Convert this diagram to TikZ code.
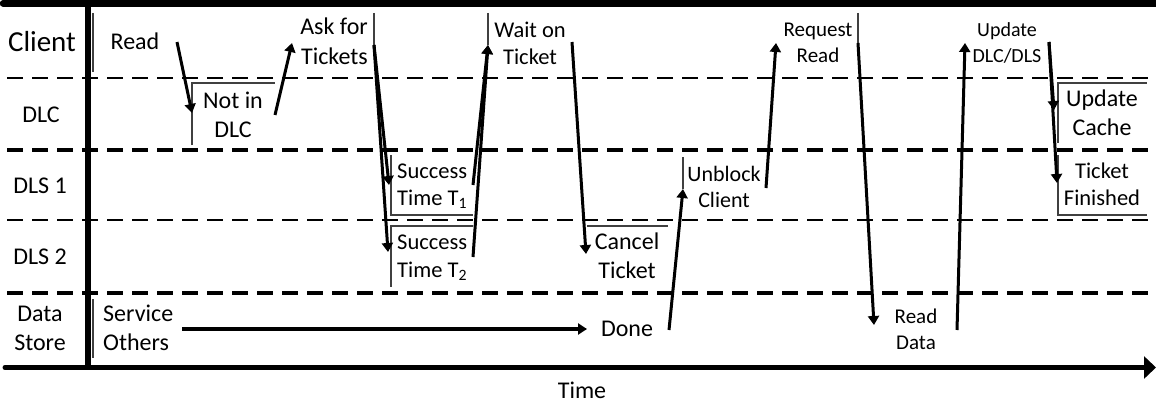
\documentclass[tikz,border=0pt]{standalone}
\usepackage{fontspec}
\setmainfont{Carlito}
\usetikzlibrary{arrows.meta}
\begin{document}
\begin{tikzpicture}[x=1pt,y=-1pt,
  lbl/.style={inner sep=0pt, align=center, font=\fontsize{24}{29}\selectfont},
  lblB/.style={inner sep=0pt, align=center, font=\fontsize{22.5}{27}\selectfont},
  lblC/.style={inner sep=0pt, align=center, font=\fontsize{21}{26}\selectfont},
  topline/.style={line width=6.5pt},
  lane/.style={dash pattern=on 16pt off 9pt, line width=2.2pt},
  laneB/.style={dash pattern=on 16pt off 9pt, line width=3.2pt},
  edge/.style={line width=1.3pt, black!75},
  flow/.style={line width=3pt, -{Triangle[length=9pt,width=11pt]}},
]
\useasboundingbox (0,0) rectangle (1156,404);

% frame
\coordinate (tl) at (3,3.3);   \coordinate (tr) at (1156,3.3);
\coordinate (vt) at (88,0);    \coordinate (vb) at (88,367.5);
\coordinate (bl) at (5,367.5); \coordinate (br) at (1156,367.5);
\draw[topline, line cap=round] (tl) -- (tr);
\draw[line width=5.5pt] (vt) -- (vb);
\draw[line width=5pt, line cap=round, -{Triangle[length=12pt,width=22pt]}] (bl) -- (br);

% lanes
\coordinate (l1a) at (7,78);  \coordinate (l1b) at (1156,78);
\coordinate (l2a) at (7,150); \coordinate (l2b) at (1156,150);
\coordinate (l3a) at (7,220); \coordinate (l3b) at (1156,220);
\coordinate (l4a) at (7,293); \coordinate (l4b) at (1156,293);
\draw[lane] (l1a) -- (l1b);
\draw[laneB] (l2a) -- (l2b);
\draw[lane] (l3a) -- (l3b);
\draw[laneB] (l4a) -- (l4b);

% lane labels (base = baseline of the last line)
\node[lbl, anchor=base, font=\fontsize{29}{34}\selectfont] (client) at (42,52) {Client};
\node[lbl, anchor=base] (dlc) at (41,122) {DLC};
\node[lbl, anchor=base] (dls1) at (40,193) {DLS 1};
\node[lbl, anchor=base] (dls2) at (40,264) {DLS 2};
\node[lbl, anchor=base] (store) at (40,350) {Data\\Store};
\node[lbl, anchor=base] (time) at (582,398) {Time};

% event texts
\node[lbl, anchor=base] (read) at (135,50) {Read};
\node[lbl, anchor=base] (notin) at (233,137) {Not in\\DLC};
\node[lbl, anchor=base east, align=right, font=\fontsize{24}{30}\selectfont] (ask) at (368,65) {Ask for\\Tickets};
\node[lblB, anchor=base] (wait) at (530,64) {Wait on\\Ticket};
\node[lblB, anchor=base west, align=left] (s1) at (397,205) {Success\\Time T\textsubscript{1}};
\node[lblB, anchor=base west, align=left, font=\fontsize{22.5}{28}\selectfont] (s2) at (397,277) {Success\\Time T\textsubscript{2}};
\node[lbl, anchor=base] (cancel) at (627,278) {Cancel\\Ticket};
\node[lbl, anchor=base west, align=left] (service) at (103,350) {Service\\Others};
\node[lbl, anchor=base] (done) at (627,336) {Done};
\node[lblB, font=\fontsize{22}{26}\selectfont, anchor=base] (unblock) at (724,207) {Unblock\\Client};
\node[lblC, anchor=base] (request) at (818,63) {Request\\Read};
\node[lblC, anchor=base] (readdata) at (916,349) {Read\\Data};
\node[lblC, font=\fontsize{20}{26}\selectfont, anchor=base] (upd) at (1007,63) {Update\\DLC/DLS};
\node[lbl, anchor=base] (cache) at (1102,135) {Update\\Cache};
\node[lblB, anchor=base] (finished) at (1102,205) {Ticket\\Finished};

% text-box edges
\coordinate (e1a) at (93,13);    \coordinate (e1b) at (93,72);
\draw[edge] (e1a) -- (e1b);
\coordinate (e2a) at (192,145);  \coordinate (e2b) at (192,83); \coordinate (e2c) at (275,83);
\draw[edge] (e2a) -- (e2b) -- (e2c);
\coordinate (e3a) at (374,13);   \coordinate (e3b) at (374,46);
\draw[edge] (e3a) -- (e3b);
\coordinate (e4a) at (391,155);  \coordinate (e4b) at (391,215); \coordinate (e4c) at (473,215);
\draw[edge] (e4a) -- (e4b) -- (e4c);
\coordinate (e5a) at (473,226);  \coordinate (e5b) at (391,226); \coordinate (e5c) at (391,287);
\draw[edge] (e5a) -- (e5b) -- (e5c);
\coordinate (e6a) at (488,13);   \coordinate (e6b) at (488,45);
\draw[edge] (e6a) -- (e6b);
\coordinate (e7a) at (587,226);  \coordinate (e7b) at (668,226);
\draw[edge] (e7a) -- (e7b);
\coordinate (e8a) at (683,157);  \coordinate (e8b) at (683,189);
\draw[edge] (e8a) -- (e8b);
\coordinate (e9a) at (858,13);   \coordinate (e9b) at (858,44);
\draw[edge] (e9a) -- (e9b);
\coordinate (e10a) at (1058,143); \coordinate (e10b) at (1058,83); \coordinate (e10c) at (1147,83);
\draw[edge] (e10a) -- (e10b) -- (e10c);
\coordinate (e11a) at (1058,155); \coordinate (e11b) at (1058,215); \coordinate (e11c) at (1147,215);
\draw[edge] (e11a) -- (e11b) -- (e11c);
\coordinate (e12a) at (93,299);  \coordinate (e12b) at (93,358);
\draw[edge] (e12a) -- (e12b);

% flows
\coordinate (f1a) at (177,42);   \coordinate (f1b) at (192,113);
\coordinate (f2a) at (275,115);  \coordinate (f2b) at (292,43);
\coordinate (f3a) at (374,45);   \coordinate (f3b) at (389,185);
\coordinate (f4b) at (388,252);
\coordinate (f5a) at (473,185);  \coordinate (f5b) at (488,45);
\coordinate (f6a) at (473,257);
\coordinate (f7a) at (572,42);   \coordinate (f7b) at (586,254);
\coordinate (f8a) at (182,329);  \coordinate (f8b) at (587,329);
\coordinate (f9a) at (669,330);  \coordinate (f9b) at (683,189);
\coordinate (f10a) at (766,188); \coordinate (f10b) at (776,43);
\coordinate (f11a) at (858,43);  \coordinate (f11b) at (874,325);
\coordinate (f12a) at (957,330); \coordinate (f12b) at (965,43);
\coordinate (f13a) at (1049,42); \coordinate (f13b) at (1054,110);
\coordinate (f14b) at (1057,183);
\draw[flow] (f1a) -- (f1b);
\draw[flow] (f2a) -- (f2b);
\draw[flow] (f3a) -- (f3b);
\draw[flow] (f3a) -- (f4b);
\draw[flow] (f5a) -- (f5b);
\draw[flow] (f6a) -- (f5b);
\draw[flow] (f7a) -- (f7b);
\draw[flow, line width=3.5pt] (f8a) -- (f8b);
\draw[flow] (f9a) -- (f9b);
\draw[flow] (f10a) -- (f10b);
\draw[flow] (f11a) -- (f11b);
\draw[flow] (f12a) -- (f12b);
\draw[flow] (f13a) -- (f13b);
\draw[flow] (f13a) -- (f14b);
\end{tikzpicture}
\end{document}
